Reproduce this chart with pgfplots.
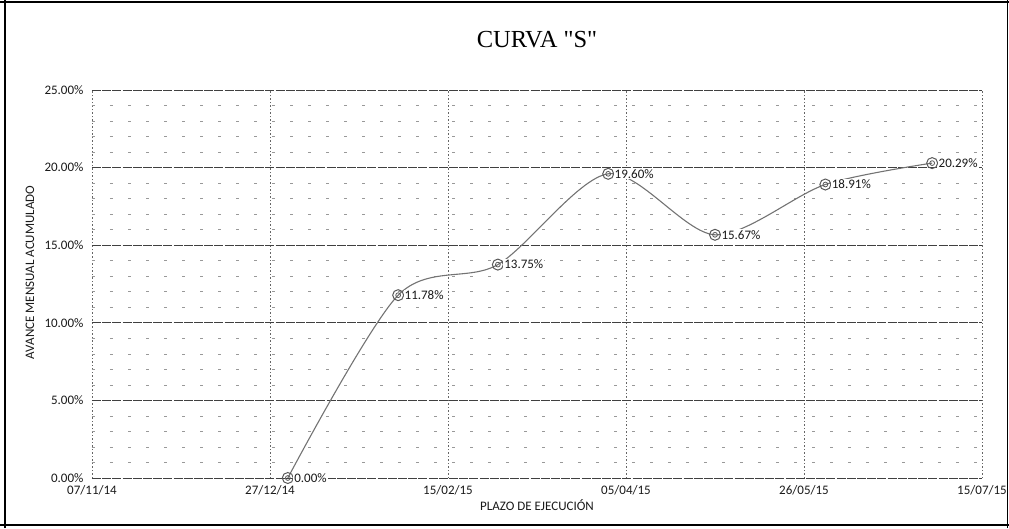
\documentclass[border=0pt]{standalone}
\usepackage{pgfplots}
\pgfplotsset{compat=1.18}
\usepackage{fontspec}
\setmainfont{Carlito}
\newfontfamily\titlefont{Liberation Serif}
\begin{document}
\begin{tikzpicture}[x=1pt,y=1pt]
\useasboundingbox (0,0) rectangle (1009,528);
\begin{axis}[
  at={(92pt,50pt)}, anchor=south west,
  scale only axis, width=890pt, height=388pt,
  xmin=0, xmax=250, ymin=0, ymax=25,
  clip=false,
  xtick={0,50,...,250},
  xticklabels={07/11/14,27/12/14,15/02/15,05/04/15,26/05/15,15/07/15},
  ytick={0,5,...,25},
  minor ytick={1,2,3,4,6,7,8,9,11,12,13,14,16,17,18,19,21,22,23,24},
  yticklabel={\pgfmathprintnumber[fixed,fixed zerofill,precision=2]{\tick}\%},
  /pgf/number format/assume math mode=true,
  major tick length=0pt, minor tick length=0pt,
  axis line style={draw=none},
  xmajorgrids, ymajorgrids, yminorgrids,
  major y grid style={black!75, line width=0.75pt, dash pattern=on 9pt off 1.2pt},
  major x grid style={black!60, line width=0.7pt, dash pattern=on 1.5pt off 2pt},
  minor y grid style={black!40, line width=0.6pt, dash pattern=on 3pt off 15pt},
  tick label style={font=\fontsize{13}{15}\selectfont, text=black!90},
  yticklabel style={xshift=-5pt},
  xticklabel style={yshift=-4pt},
  xlabel={PLAZO DE EJECUCIÓN},
  ylabel={AVANCE MENSUAL ACUMULADO},
  label style={font=\fontsize{13}{15}\selectfont, text=black!90},
  xlabel style={at={(axis description cs:0.5,-0.0696)}, anchor=center},
  ylabel style={at={(axis description cs:-0.0697,0.53)}, anchor=center},
]
\addplot[black!55, line width=1.1pt, smooth, tension=0.5,
  mark=o, mark size=5.5pt, mark options={solid, black!65, line width=1pt},
  point meta=y,
  nodes near coords={\pgfmathprintnumber[fixed,fixed zerofill,precision=2]{\pgfplotspointmeta}\%},
  nodes near coords style={anchor=west, xshift=5pt, inner sep=1pt, fill=white,
    text=black!90, font=\fontsize{13}{15}\selectfont}]
coordinates {(55,0.00) (86,11.78) (114,13.75) (145,19.60) (175,15.67) (206,18.91) (236,20.29)};
\addplot[only marks, mark=o, mark size=2.4pt, mark options={black!65, line width=0.8pt}]
coordinates {(55,0.00) (86,11.78) (114,13.75) (145,19.60) (175,15.67) (206,18.91) (236,20.29)};
\end{axis}
\node[font=\titlefont\fontsize{24.5}{28}\selectfont] at (537,488) {CURVA "S"};
\draw[line width=2.5pt] (5,0) -- (5,528);
\draw[line width=1.5pt] (0,526) -- (1009,526);
\draw[line width=2pt] (0,3) -- (1009,3);
\draw[line width=0.8pt] (1007.5,0) -- (1007.5,528);
\end{tikzpicture}
\end{document}
